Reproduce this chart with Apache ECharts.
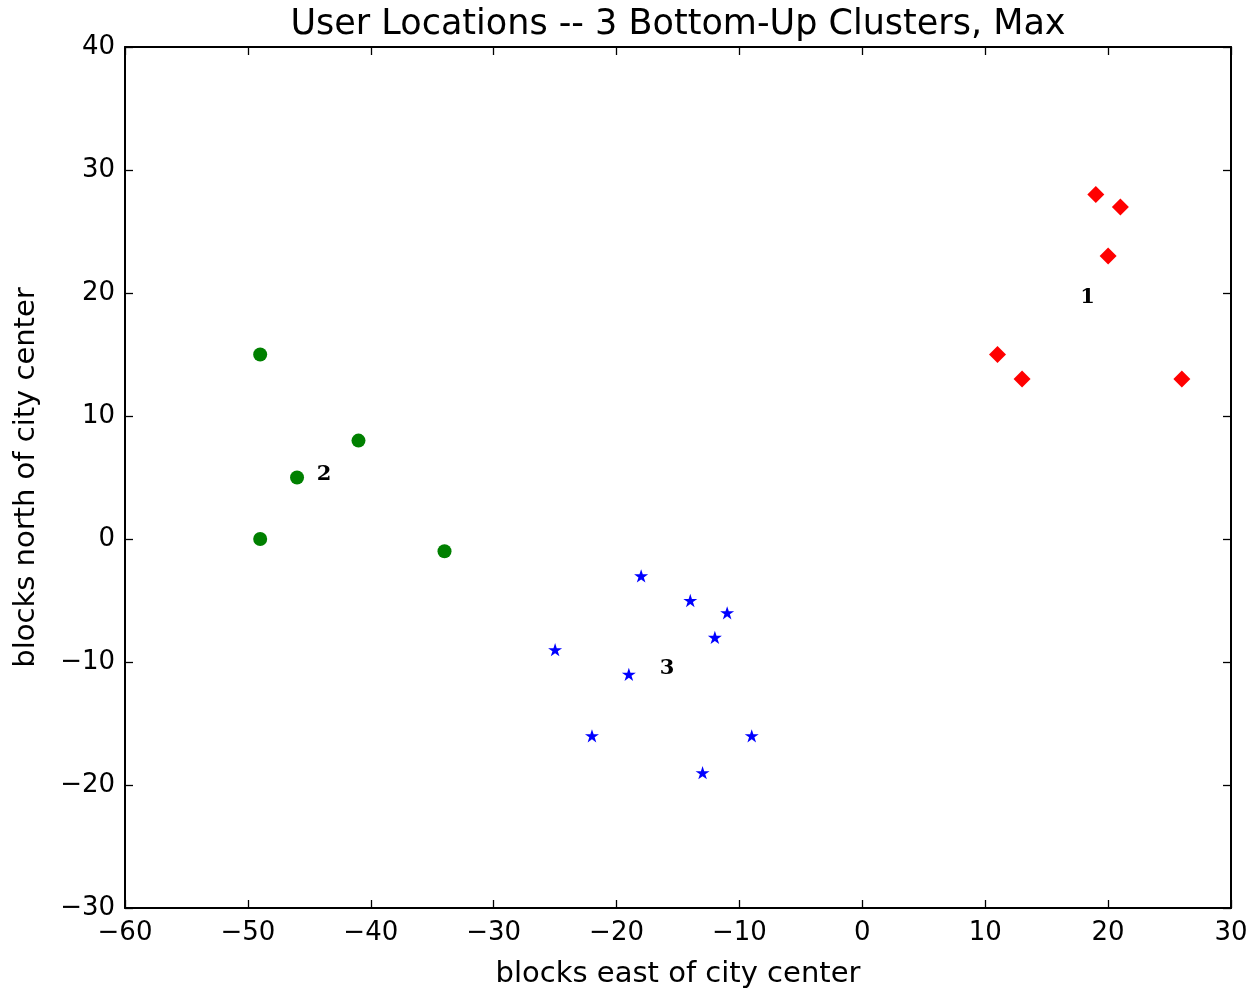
<!DOCTYPE html>
<html>
<head>
<meta charset="utf-8">
<title>User Locations -- 3 Bottom-Up Clusters, Max</title>
<script src="https://cdn.jsdelivr.net/npm/echarts@6/dist/echarts.min.js"></script>
<style>
  html, body { margin: 0; padding: 0; background: #ffffff; }
  #chart { width: 1257px; height: 991px; }
</style>
</head>
<body>
<div id="chart"></div>
<script>
// Cluster 1 (red diamonds)
const cluster1X = [19, 21, 20, 11, 13, 26];
const cluster1Y = [28, 27, 23, 15, 13, 13];
// Cluster 2 (green circles)
const cluster2X = [-49, -41, -46, -49, -34];
const cluster2Y = [15, 8, 5, 0, -1];
// Cluster 3 (blue stars)
const cluster3X = [-18, -14, -11, -12, -25, -19, -22, -9, -13];
const cluster3Y = [-3, -5, -6, -8, -9, -11, -16, -16, -19];

const clusterNames = ['1', '2', '3'];

const xTicks = [-60, -50, -40, -30, -20, -10, 0, 10, 20, 30];
const yTicks = [-30, -20, -10, 0, 10, 20, 30, 40];

const FONT = 'DejaVu Sans';

function zip(xs, ys) { return xs.map((x, i) => [x, ys[i]]); }
function mean(a) { return a.reduce((s, v) => s + v, 0) / a.length; }

// Five-pointed star outline, like matplotlib's '*' marker
function starPath() {
  const pts = [];
  for (let i = 0; i < 10; i++) {
    const r = i % 2 === 0 ? 1 : 0.381966;
    const a = -Math.PI / 2 + i * Math.PI / 5;
    pts.push((r * Math.cos(a)).toFixed(4) + ' ' + (r * Math.sin(a)).toFixed(4));
  }
  return 'path://M' + pts.join(' L') + ' Z';
}

const minusFmt = v => String(v).replace('-', '\u2212');

// Each cluster's number sits at the mean of its points
const centroids = [
  [mean(cluster1X), mean(cluster1Y), clusterNames[0]],
  [mean(cluster2X), mean(cluster2Y), clusterNames[1]],
  [mean(cluster3X), mean(cluster3Y), clusterNames[2]]
];

const axisLine = { show: true, onZero: false, lineStyle: { color: '#000', width: 2 } };
const tickIn = { show: true, inside: true, length: 8, lineStyle: { color: '#000', width: 1.3 } };

const xBase = { type: 'value', min: xTicks[0], max: xTicks[xTicks.length - 1], interval: 10, splitLine: { show: false } };
const yBase = { type: 'value', min: yTicks[0], max: yTicks[yTicks.length - 1], interval: 10, splitLine: { show: false } };

const chart = echarts.init(document.getElementById('chart'));
chart.setOption({
  backgroundColor: '#ffffff',
  animation: false,
  textStyle: { fontFamily: FONT },
  grid: { left: 125, right: 26, top: 47, bottom: 83, containLabel: false, outerBoundsMode: 'none' },
  graphic: [{
    type: 'text',
    x: 678, y: 25,
    style: {
      text: 'User Locations -- 3 Bottom-Up Clusters, Max',
      font: '35px "DejaVu Sans"',
      fill: '#000',
      align: 'center',
      verticalAlign: 'middle'
    }
  }],
  xAxis: [
    Object.assign({}, xBase, {
      position: 'bottom',
      name: 'blocks east of city center',
      nameLocation: 'middle',
      nameGap: 52,
      nameTextStyle: { fontSize: 29, color: '#000', fontFamily: FONT },
      axisLine: axisLine, axisTick: tickIn,
      axisLabel: { fontSize: 26, color: '#000', margin: 12, formatter: minusFmt, fontFamily: FONT }
    }),
    Object.assign({}, xBase, {
      position: 'top',
      axisLine: axisLine, axisTick: tickIn,
      axisLabel: { show: false }
    })
  ],
  yAxis: [
    Object.assign({}, yBase, {
      position: 'left',
      name: 'blocks north of city center',
      nameLocation: 'middle',
      nameGap: 84,
      nameTextStyle: { fontSize: 29, color: '#000', fontFamily: FONT },
      axisLine: axisLine, axisTick: tickIn,
      axisLabel: { fontSize: 26, color: '#000', margin: 10, formatter: minusFmt, fontFamily: FONT }
    }),
    Object.assign({}, yBase, {
      position: 'right',
      axisLine: axisLine, axisTick: tickIn,
      axisLabel: { show: false }
    })
  ],
  series: [
    {
      name: 'Cluster 1', type: 'scatter', xAxisIndex: 0, yAxisIndex: 0,
      symbol: 'diamond', symbolSize: [17, 17],
      itemStyle: { color: '#ff0000', opacity: 1 },
      data: zip(cluster1X, cluster1Y)
    },
    {
      name: 'Cluster 2', type: 'scatter', xAxisIndex: 0, yAxisIndex: 0,
      symbol: 'circle', symbolSize: 14,
      itemStyle: { color: '#008000', opacity: 1 },
      data: zip(cluster2X, cluster2Y)
    },
    {
      name: 'Cluster 3', type: 'scatter', xAxisIndex: 0, yAxisIndex: 0,
      symbol: starPath(), symbolSize: [14, 13.3],
      itemStyle: { color: '#0000ff', opacity: 1 },
      data: zip(cluster3X, cluster3Y)
    },
    {
      name: 'Cluster labels', type: 'scatter', xAxisIndex: 0, yAxisIndex: 0,
      symbolSize: 1,
      itemStyle: { color: 'rgba(0,0,0,0)' },
      label: {
        show: true, position: 'inside', offset: [0, 2],
        formatter: p => p.data[2],
        fontFamily: 'DejaVu Serif', fontWeight: 'bold', fontSize: 21,
        color: '#000000', textBorderWidth: 0, textShadowBlur: 0, opacity: 1
      },
      data: centroids
    }
  ]
});
</script>
</body>
</html>
